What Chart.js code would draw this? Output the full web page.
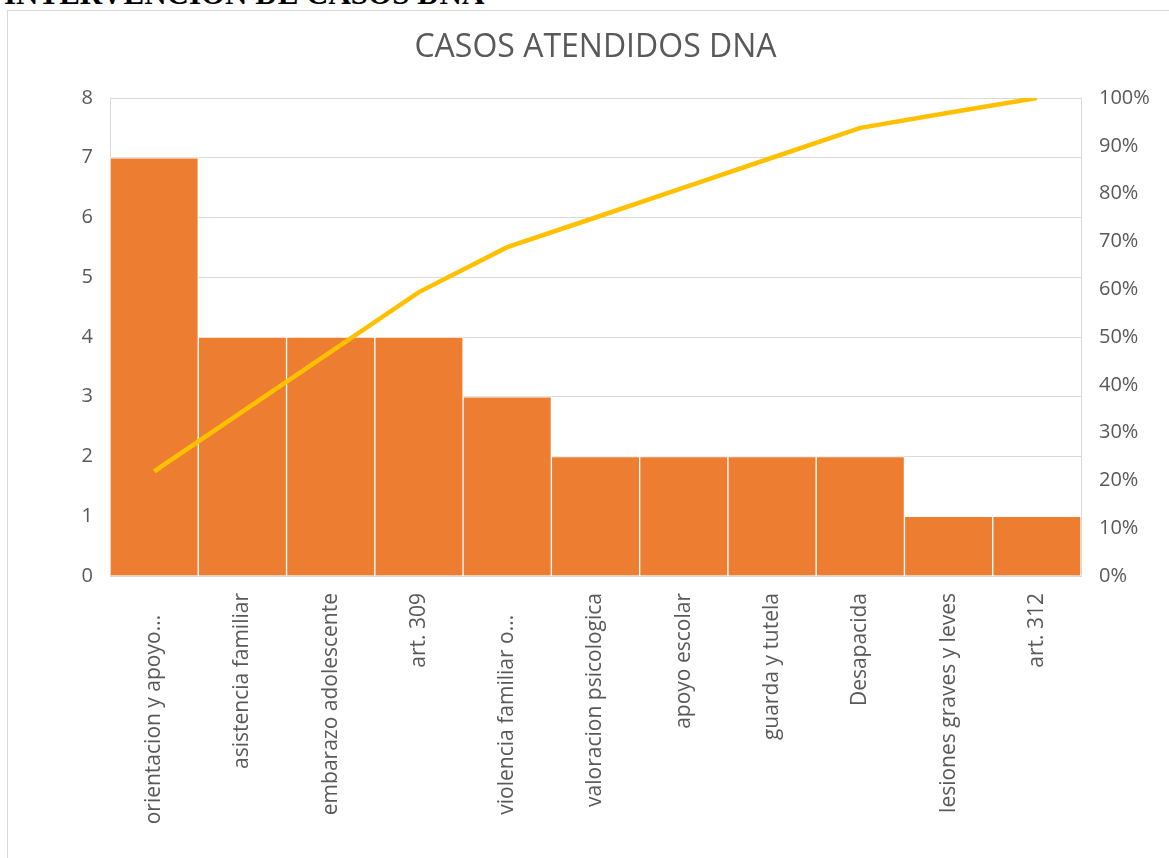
<!DOCTYPE html>
<html>
<head>
<meta charset="utf-8">
<script src="https://cdn.jsdelivr.net/npm/chart.js@4/dist/chart.umd.min.js"></script>
<style>
  html, body { margin: 0; padding: 0; background: #ffffff; overflow: hidden; }
  #heading { position: absolute; left: 4px; top: -22px; font-family: "Liberation Serif", serif; font-weight: bold; font-size: 31px; line-height: 31px; color: #000; white-space: nowrap; }
  #frame { position: absolute; left: 7px; top: 10px; width: 1170px; height: 860px; border: 1px solid #d9d9d9; box-sizing: border-box; }
  #wrap { position: absolute; left: 0; top: 0; width: 1169px; height: 858px; }
</style>
</head>
<body>
<div id="heading">INTERVENCION DE CASOS DNA</div>
<div id="frame"></div>
<div id="wrap"><canvas id="c" width="1169" height="858"></canvas></div>
<script>
const categories = [
  "orientacion y apoyo...",
  "asistencia familiar",
  "embarazo adolescente",
  "art. 309",
  "violencia familiar o...",
  "valoracion psicologica",
  "apoyo escolar",
  "guarda y tutela",
  "Desapacida",
  "lesiones graves y leves",
  "art. 312"
];
const casos = [7, 4, 4, 4, 3, 2, 2, 2, 2, 1, 1];
const acumulado = [0.219, 0.344, 0.469, 0.594, 0.688, 0.75, 0.8125, 0.875, 0.9375, 0.969, 1.0];
const leftTicks = [0, 1, 2, 3, 4, 5, 6, 7, 8];
const rightTicks = ["0%", "10%", "20%", "30%", "40%", "50%", "60%", "70%", "80%", "90%", "100%"];

const tickFont = { family: "'Open Sans', sans-serif", size: 20 };
const xTickFont = { family: "'Open Sans', sans-serif", size: 21 };
const tickColor = "#595959";
const gridColor = "#d9d9d9";

new Chart(document.getElementById("c"), {
  data: {
    labels: categories,
    datasets: [
      {
        type: "line",
        label: "Acumulado",
        data: acumulado,
        yAxisID: "y1",
        borderColor: "#FFC000",
        backgroundColor: "#FFC000",
        borderWidth: 4.5,
        pointRadius: 0,
        tension: 0,
        order: 0
      },
      {
        type: "bar",
        label: "Casos",
        data: casos,
        yAxisID: "y",
        backgroundColor: "#ED7D31",
        borderColor: "#ffffff",
        borderWidth: 1,
        barPercentage: 1,
        categoryPercentage: 1,
        order: 1
      }
    ]
  },
  options: {
    responsive: false,
    animation: false,
    layout: { padding: { left: 22, right: 0, top: 0, bottom: 0 } },
    plugins: {
      legend: { display: false },
      tooltip: { enabled: false },
      title: {
        display: true,
        text: "CASOS ATENDIDOS DNA",
        color: "#595959",
        font: { family: "'Open Sans', sans-serif", size: 32, weight: "normal" },
        padding: { top: 29, bottom: 30.6 }
      }
    },
    scales: {
      x: {
        grid: { display: true, color: "rgba(0,0,0,0)", drawTicks: false },
        border: { display: true, color: gridColor },
        ticks: {
          color: tickColor, font: xTickFont,
          minRotation: 90, maxRotation: 90, autoSkip: false, padding: 17,
          callback: (v, i) => categories[i].endsWith("...") ? categories[i] + "    " : categories[i]
        },
        afterFit: s => { s.height = 282; }
      },
      y: {
        position: "left",
        min: 0, max: 8,
        afterBuildTicks: s => { s.ticks = leftTicks.map(v => ({ value: v })); },
        grid: { color: gridColor, drawTicks: false },
        border: { display: true, color: gridColor },
        ticks: { color: tickColor, font: tickFont, padding: 17 },
        afterFit: s => { s.width = 88; }
      },
      y1: {
        position: "right",
        min: 0, max: 1,
        afterBuildTicks: s => { s.ticks = rightTicks.map((t, i) => ({ value: i / 10 })); },
        grid: { display: false, drawTicks: false },
        border: { display: true, color: gridColor },
        ticks: {
          color: tickColor, font: tickFont, padding: 18,
          callback: (v, i) => rightTicks[i]
        },
        afterFit: s => { s.width = 88; }
      }
    }
  }
});
</script>
</body>
</html>
